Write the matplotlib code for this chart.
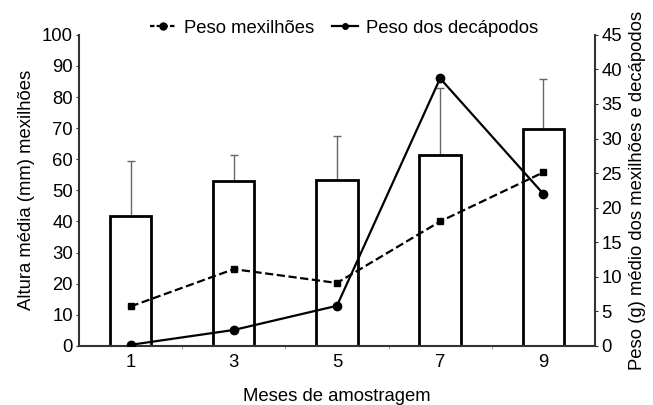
import matplotlib
matplotlib.use("Agg")
import matplotlib.pyplot as plt
from matplotlib.lines import Line2D

plt.rcParams['font.family'] = ['Liberation Sans', 'DejaVu Sans']

months = [1, 3, 5, 7, 9]
altura = [41.8, 52.9, 53.3, 61.3, 69.8]
altura_err = [17.5, 8.4, 14.1, 21.5, 16.0]
peso_mexilhoes = [5.7, 11.1, 9.1, 18.0, 25.1]
peso_decapodos = [0.15, 2.3, 5.8, 38.7, 22.0]
left_ticks = list(range(0, 101, 10))
right_ticks = list(range(0, 46, 5))

FS = 13.3
fig = plt.figure(figsize=(6.53, 4.05), dpi=100)
ax = fig.add_axes([0.121, 0.146, 0.790, 0.768])
ax2 = ax.twinx()

spine_col = '#333333'
ax.bar(months, altura, width=0.8, color='white', edgecolor='black', linewidth=2.0, zorder=2)
ax.errorbar(months, altura, yerr=[[0]*5, altura_err], fmt='none', ecolor='#666666',
            elinewidth=1.0, capsize=3, capthick=1.0, zorder=1)

ax.set_xlim(0, 10)
ax.set_ylim(0, 100)
ax.set_yticks(left_ticks)
ax.set_xticks(months)
ax.set_xticks([2, 4, 6, 8], minor=True)
ax.tick_params(axis='x', which='major', length=0, pad=6, labelsize=FS)
ax.tick_params(axis='x', which='minor', length=2.5, color='#888888')
ax.tick_params(axis='y', length=2.5, width=0.8, color=spine_col, pad=2, labelsize=FS)

ax.spines['top'].set_visible(False)
ax2.spines['top'].set_visible(False)
ax.spines['right'].set_visible(False)
ax2.spines['left'].set_visible(False)
ax2.spines['bottom'].set_visible(False)
for sp in [ax.spines['left'], ax.spines['bottom'], ax2.spines['right']]:
    sp.set_color(spine_col)
    sp.set_linewidth(1.5)

ax2.plot(months, peso_mexilhoes, linestyle='--', color='black', linewidth=1.6,
         marker='s', markersize=5, zorder=3)
ax2.plot(months, peso_decapodos, linestyle='-', color='black', linewidth=1.6,
         marker='o', markersize=6, zorder=3)
ax2.set_ylim(0, 45)
ax2.set_yticks(right_ticks)
ax2.tick_params(axis='y', length=2.5, width=0.8, color=spine_col, pad=2, labelsize=FS)

ax.set_ylabel('Altura média (mm) mexilhões', fontsize=FS, labelpad=5)
ax2.set_ylabel('Peso (g) médio dos mexilhões e decápodos', fontsize=FS, labelpad=5)
ax.set_xlabel('Meses de amostragem', fontsize=FS, labelpad=12)

handles = [Line2D([], [], linestyle=(0, (2, 1)), color='black', marker='o', markersize=5, linewidth=1.6),
           Line2D([], [], linestyle='-', color='black', marker='o', markersize=4, linewidth=1.6)]
fig.legend(handles, ['Peso mexilhões', 'Peso dos decápodos'], loc='center',
           bbox_to_anchor=(0.527, 0.93), ncol=2, frameon=False, fontsize=FS,
           handlelength=1.4, handletextpad=0.4, columnspacing=1.0)

fig.savefig('out.png', dpi=100)
